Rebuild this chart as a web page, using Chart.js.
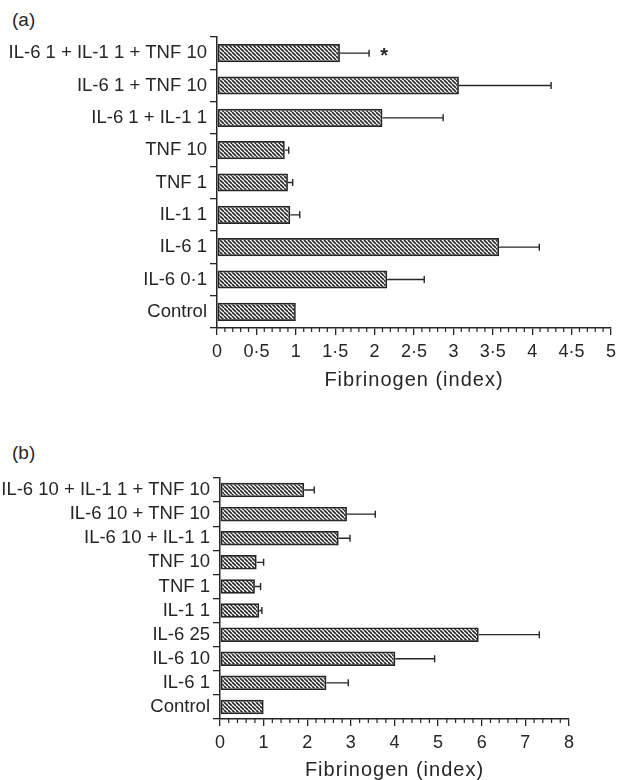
<!DOCTYPE html>
<html>
<head>
<meta charset="utf-8">
<script src="https://cdn.jsdelivr.net/npm/chart.js@4.4.1/dist/chart.umd.min.js"></script>
<style>
  body { margin: 0; background: #fff; }
  #wrap { position: relative; width: 622px; height: 780px; }
  canvas { position: absolute; left: 0; }
  .panel { position: absolute; left: 12px; font: 19px "Liberation Sans", Arial, sans-serif; color: #262626; }
</style>
</head>
<body>
<div id="wrap">
  <div class="panel" style="top:9px">(a)</div>
  <canvas id="chartA" width="622" height="390" style="top:0"></canvas>
  <div class="panel" style="top:442px">(b)</div>
  <canvas id="chartB" width="622" height="390" style="top:390px"></canvas>
</div>

<script>
// ---- data, panel (a) ----
const labelsA = ['IL-6 1 + IL-1 1 + TNF 10', 'IL-6 1 + TNF 10', 'IL-6 1 + IL-1 1', 'TNF 10', 'TNF 1', 'IL-1 1', 'IL-6 1', 'IL-6 0·1', 'Control'];
const valuesA = [1.56, 3.07, 2.10, 0.86, 0.90, 0.93, 3.58, 2.16, 1.00];
const errorsA = [0.37, 1.17, 0.77, 0.05, 0.06, 0.12, 0.51, 0.47, 0];
const marksA  = ['*', '', '', '', '', '', '', '', ''];

// ---- data, panel (b) ----
const labelsB = ['IL-6 10 + IL-1 1 + TNF 10', 'IL-6 10 + TNF 10', 'IL-6 10 + IL-1 1', 'TNF 10', 'TNF 1', 'IL-1 1', 'IL-6 25', 'IL-6 10', 'IL-6 1', 'Control'];
const valuesB = [1.93, 2.91, 2.72, 0.84, 0.80, 0.90, 5.93, 4.02, 2.44, 1.00];
const errorsB = [0.23, 0.65, 0.26, 0.16, 0.13, 0.06, 1.39, 0.90, 0.50, 0];
const marksB  = ['', '', '', '', '', '', '', '', '', ''];

const axisTitle = 'Fibrinogen (index)';

const INK = '#262626';
Chart.defaults.font.family = '"Liberation Sans", Arial, sans-serif';
Chart.defaults.font.size = 18;
Chart.defaults.color = INK;

// diagonal hatch fill for the bars
function hatch() {
  const c = document.createElement('canvas');
  c.width = 4; c.height = 4;
  const g = c.getContext('2d');
  g.strokeStyle = '#2a2a2a';
  g.lineWidth = 1.6;
  g.beginPath();
  for (let k = -4; k <= 4; k += 4) { g.moveTo(k, 0); g.lineTo(k + 4, 4); }
  g.stroke();
  return g.createPattern(c, 'repeat');
}

// one-sided error bars (+ significance mark)
const errorBars = {
  id: 'errorBars',
  afterDatasetsDraw(chart, args, opts) {
    const { ctx, scales: { x, y } } = chart;
    const vals = chart.data.datasets[0].data;
    ctx.save();
    ctx.strokeStyle = INK;
    ctx.fillStyle = INK;
    ctx.lineWidth = 1.4;
    vals.forEach((v, i) => {
      const yc = y.getPixelForValue(i);
      const x0 = x.getPixelForValue(v);
      const x1 = x.getPixelForValue(v + opts.errors[i]);
      if (opts.errors[i] > 0) {
        ctx.beginPath();
        ctx.moveTo(x0, yc); ctx.lineTo(x1, yc);
        ctx.moveTo(x1, yc - 3.5); ctx.lineTo(x1, yc + 3.5);
        ctx.stroke();
      }
      if (opts.marks[i]) {
        ctx.font = 'bold 20px "Liberation Sans", Arial, sans-serif';
        ctx.textAlign = 'center';
        ctx.textBaseline = 'middle';
        ctx.fillText(opts.marks[i], x1 + 15, yc + 3);
      }
    });
    ctx.restore();
  }
};

// small unlabelled ticks between the major ones
const minorTicks = {
  id: 'minorTicks',
  afterDraw(chart, args, opts) {
    const { ctx } = chart;
    const x = chart.scales.x;
    const major = x.options.ticks.stepSize;
    const n = Math.round((x.max - x.min) / opts.step);
    ctx.save();
    ctx.strokeStyle = INK;
    ctx.lineWidth = 1.2;
    ctx.beginPath();
    for (let i = 1; i < n; i++) {
      const v = x.min + i * opts.step;
      const r = v / major;
      if (Math.abs(r - Math.round(r)) < 1e-6) continue;
      const px = x.getPixelForValue(v);
      ctx.moveTo(px, x.top);
      ctx.lineTo(px, x.top + 4);
    }
    ctx.stroke();
    ctx.restore();
  }
};

// the axis title in the print is set with a little letter spacing
const spacedTitle = {
  id: 'spacedTitle',
  afterUpdate(chart) {
    const sx = chart.scales.x;
    if (sx._spaced) return;
    const orig = sx.drawTitle;
    sx.drawTitle = function () {
      this.ctx.save();
      this.ctx.letterSpacing = '1px';
      orig.call(this);
      this.ctx.restore();
    };
    sx._spaced = true;
  }
};

function makeChart(id, labels, values, errors, marks, s) {
  return new Chart(document.getElementById(id), {
    type: 'bar',
    data: {
      labels: labels,
      datasets: [{
        data: values,
        backgroundColor: hatch(),
        borderColor: INK,
        borderWidth: 1.7,
        borderSkipped: false,
        barPercentage: s.barPct,
        categoryPercentage: 1
      }]
    },
    options: {
      indexAxis: 'y',
      responsive: false,
      animation: false,
      layout: { padding: { left: 0, top: s.top, right: s.right, bottom: 0 } },
      plugins: {
        legend: { display: false },
        tooltip: { enabled: false },
        errorBars: { errors: errors, marks: marks },
        minorTicks: { step: s.minor }
      },
      scales: {
        y: {
          type: 'category',
          grid: { offset: true, drawOnChartArea: false, tickLength: 7, color: INK, lineWidth: 1.3 },
          border: { color: INK, width: 1.5 },
          ticks: { padding: 3, autoSkip: false, color: INK, font: { size: 18.5 } },
          afterFit: sc => { sc.width = s.left; }
        },
        x: {
          type: 'linear',
          min: 0,
          max: s.max,
          grid: { drawOnChartArea: false, tickLength: 7, color: INK, lineWidth: 1.3 },
          border: { color: INK, width: 1.5 },
          ticks: {
            stepSize: s.major,
            autoSkip: false,
            maxRotation: 0,
            padding: 6,
            color: INK,
            callback: v => String(v).replace('.', '·')
          },
          title: {
            display: true,
            text: axisTitle,
            color: INK,
            font: { size: 20, lineHeight: 1 },
            padding: { top: 0, bottom: 0 }
          },
          afterFit: sc => { sc.height = s.bottom; }
        }
      }
    },
    plugins: [errorBars, minorTicks, spacedTitle]
  });
}

makeChart('chartA', labelsA, valuesA, errorsA, marksA,
  { left: 217, top: 37, right: 5, bottom: 62, max: 5, major: 0.5, minor: 0.1, barPct: 0.56 });
makeChart('chartB', labelsB, valuesB, errorsB, marksB,
  { left: 220, top: 88, right: 53, bottom: 61, max: 8, major: 1, minor: 0.2, barPct: 0.6 });
</script>
</body>
</html>
